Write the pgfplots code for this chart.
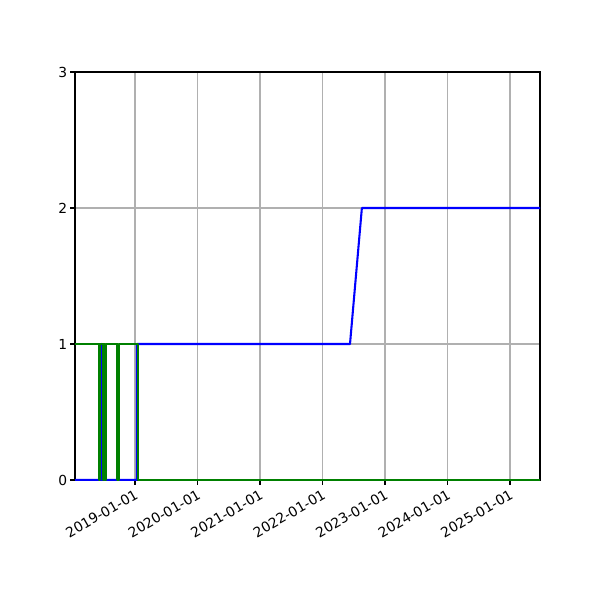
\documentclass[border=0pt]{standalone}
\usepackage{pgfplots}
\pgfplotsset{compat=1.18}
\usepackage{fontspec}
\setmainfont{DejaVu Sans}
\definecolor{mplblue}{RGB}{0,0,255}
\definecolor{mplgreen}{RGB}{0,128,0}
\definecolor{mplgrid}{RGB}{176,176,176}
\begin{document}
\begin{tikzpicture}
\useasboundingbox (-0.75in,-1.2in) rectangle (5.25in,4.8in);
\begin{axis}[
    at={(0,0)}, anchor=south west,
    scale only axis, width=4.65in, height=4.08in,
    xmin=2018.04, xmax=2025.48, ymin=0, ymax=3,
    xtick={2019,2020,2021,2022,2023,2024,2025},
    xticklabels={2019-01-01,2020-01-01,2021-01-01,2022-01-01,2023-01-01,2024-01-01,2025-01-01},
    ytick={0,1,2,3},
    grid=major,
    grid style={color=mplgrid, line width=0.8pt},
    axis line style={line width=0.8pt},
    tick align=outside, tick pos=left,
    major tick length=3.5pt,
    tick style={black, line width=0.8pt},
    /pgf/number format/assume math mode=true,
    ticklabel style={font=\fontsize{10}{12}\selectfont},
    xticklabel style={rotate=30, anchor=north east, inner sep=2pt},
    yticklabel style={inner sep=2pt},
]
% blue series
\addplot[mplblue, line width=1.5pt, line join=round] coordinates {
    (2018.04,0) (2018.458,0) (2018.458,1) (2018.460,1) (2018.460,0)
    (2019.03,0) (2019.03,1) (2022.44,1) (2022.63,2) (2025.48,2)
};
% green series
\addplot[mplgreen, line width=1.5pt, line join=round] coordinates {
    (2018.04,1) (2018.425,1) (2018.425,0) (2018.432,0) (2018.432,1)
    (2018.483,1) (2018.483,0) (2018.49,0) (2018.49,1) (2018.50,1)
    (2018.50,0) (2018.51,0) (2018.51,1) (2018.52,1) (2018.52,0)
    (2018.535,0) (2018.535,1) (2018.72,1) (2018.72,0) (2018.745,0)
    (2018.745,1) (2019.045,1) (2019.045,0) (2025.48,0)
};
\end{axis}
\end{tikzpicture}
\end{document}
